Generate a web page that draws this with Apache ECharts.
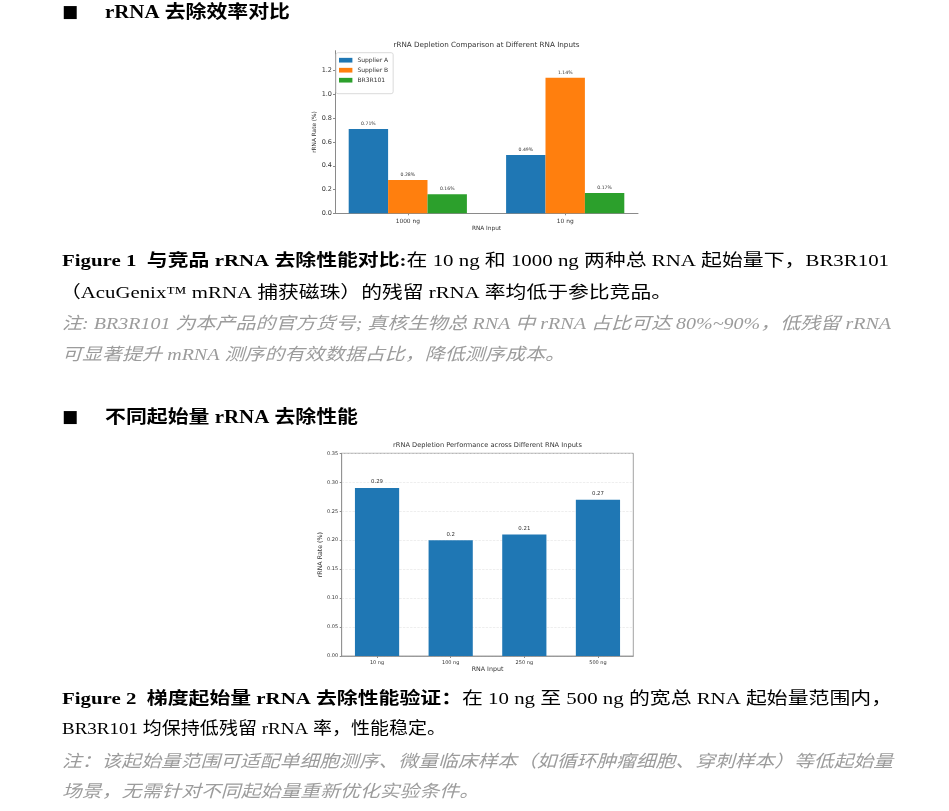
<!DOCTYPE html>
<html><head><meta charset="utf-8">
<script src="https://cdn.jsdelivr.net/npm/echarts@6/dist/echarts.min.js"></script>
<style>html,body{margin:0;padding:0;background:#fff}#main{width:949px;height:811px}</style>
</head><body><div id="main"></div>
<script>
// ---- Chart 1 data ----
const inputs1 = ['1000 ng', '10 ng'];
const supplierA = [0.71, 0.49];
const supplierB = [0.28, 1.14];
const br3r101 = [0.16, 0.17];
const seriesNames1 = ['Supplier A', 'Supplier B', 'BR3R101'];
const yTicks1 = [0, 0.2, 0.4, 0.6, 0.8, 1.0, 1.2];
const title1 = 'rRNA Depletion Comparison at Different RNA Inputs';

// ---- Chart 2 data ----
const inputs2 = ['10 ng', '100 ng', '250 ng', '500 ng'];
const rates2 = [0.29, 0.2, 0.21, 0.27];
const yTicks2 = [0, 0.05, 0.10, 0.15, 0.20, 0.25, 0.30, 0.35];
const title2 = 'rRNA Depletion Performance across Different RNA Inputs';

// ---- Document text ----
const heading1 = 'rRNA 去除效率对比';
const heading2 = '不同起始量 rRNA 去除性能';
const fig1Bold = 'Figure 1  与竞品 rRNA 去除性能对比:';
const fig1Line1 = '在 10 ng 和 1000 ng 两种总 RNA 起始量下，BR3R101';
const fig1Line2 = '（AcuGenix™ mRNA 捕获磁珠）的残留 rRNA 率均低于参比竞品。';
const note1Line1 = '注: BR3R101 为本产品的官方货号; 真核生物总 RNA 中 rRNA 占比可达 80%~90%，低残留 rRNA';
const note1Line2 = '可显著提升 mRNA 测序的有效数据占比，降低测序成本。';
const fig2Bold = 'Figure 2  梯度起始量 rRNA 去除性能验证：';
const fig2Line1 = '在 10 ng 至 500 ng 的宽总 RNA 起始量范围内，';
const fig2Line2 = 'BR3R101 均保持低残留 rRNA 率，性能稳定。';
const note2Line1 = '注：该起始量范围可适配单细胞测序、微量临床样本（如循环肿瘤细胞、穿刺样本）等低起始量';
const note2Line2 = '场景，无需针对不同起始量重新优化实验条件。';

const SERIF = "'Liberation Serif', 'Noto Sans CJK SC', serif";
const SANS = "'DejaVu Sans', sans-serif";
const TXT = '#333';
const SPINE = '#8a8a8a';
const GRAY = '#9c9c9c';

const mctx = document.createElement('canvas').getContext('2d');
function fontOf(s) { return (s.st || 'normal') + ' ' + (s.w || 'normal') + ' ' + s.size + 'px ' + SERIF; }
function makeLine(segs, x0, y, right) {
  const widths = segs.map(s => { mctx.font = fontOf(s); return mctx.measureText(s.t).width; });
  const total = widths.reduce((a, b) => a + b, 0);
  const sx = (right - x0) / total;
  let cx = x0;
  const els = [];
  segs.forEach((s, i) => {
    els.push({
      type: 'text', x: cx, y: y, scaleX: sx, z: 20,
      style: { text: s.t, fontSize: s.size, fontFamily: SERIF, fontWeight: s.w || 'normal',
        fontStyle: s.st || 'normal', fill: s.c || '#000', verticalAlign: 'middle', align: 'left' }
    });
    cx += widths[i] * sx;
  });
  return els;
}

const graphics = [].concat(
  [{ type: 'text', x: 70, y: 12.5, z: 20, style: { text: '■', fontSize: 17, fontFamily: "'DejaVu Sans'", fill: '#000', align: 'center', verticalAlign: 'middle' } },
   { type: 'text', x: 70, y: 417.5, z: 20, style: { text: '■', fontSize: 17, fontFamily: "'DejaVu Sans'", fill: '#000', align: 'center', verticalAlign: 'middle' } }],
  makeLine([{ t: heading1, w: 'bold', size: 18 }], 105, 13, 290),
  makeLine([{ t: heading2, w: 'bold', size: 18 }], 105, 418, 358),
  makeLine([{ t: fig1Bold, w: 'bold', size: 17 }, { t: fig1Line1, size: 17 }], 62, 262, 889),
  makeLine([{ t: fig1Line2, size: 17 }], 60, 293.5, 672),
  makeLine([{ t: note1Line1, st: 'italic', size: 17, c: GRAY }], 62, 325, 891),
  makeLine([{ t: note1Line2, st: 'italic', size: 17, c: GRAY }], 62, 356, 565),
  makeLine([{ t: fig2Bold, w: 'bold', size: 17 }, { t: fig2Line1, size: 17 }], 62, 700, 892),
  makeLine([{ t: fig2Line2, size: 17 }], 62, 730, 446),
  makeLine([{ t: note2Line1, st: 'italic', size: 17, c: GRAY }], 62, 763, 893),
  makeLine([{ t: note2Line2, st: 'italic', size: 17, c: GRAY }], 62, 793, 479),
  [{ type: 'text', x: 486.5, y: 45, z: 20, style: { text: title1, fontSize: 7.2, fontFamily: SANS, fill: TXT, align: 'center', verticalAlign: 'middle' } },
   { type: 'text', x: 487.5, y: 445, z: 20, style: { text: title2, fontSize: 6.65, fontFamily: SANS, fill: TXT, align: 'center', verticalAlign: 'middle' } }]
);

const colors1 = ['#1f77b4', '#ff7f0e', '#2ca02c'];
const values1 = [supplierA, supplierB, br3r101];

const chart = echarts.init(document.getElementById('main'), null, { renderer: 'canvas' });
chart.setOption({
  animation: false,
  backgroundColor: '#fff',
  textStyle: { fontFamily: SANS },
  graphic: graphics,
  legend: {
    show: true, orient: 'vertical', left: 336, top: 52.7,
    data: seriesNames1, icon: 'rect', itemWidth: 13.4, itemHeight: 4.7, itemGap: 3,
    padding: [4, 5, 10, 3], borderColor: '#d0d0d0', borderWidth: 0.8, borderRadius: 2,
    backgroundColor: '#fff', selectedMode: false,
    textStyle: { fontSize: 6, color: TXT, fontFamily: SANS, lineHeight: 7 }
  },
  grid: [
    { left: 335, top: 50.7, width: 303, height: 162.6, containLabel: false },
    { left: 341.7, top: 453.3, width: 291.6, height: 202.7, containLabel: false, show: true, borderColor: SPINE, borderWidth: 0.8 }
  ],
  xAxis: [
    { gridIndex: 0, type: 'value', min: -0.4625, max: 1.4625,
      axisLine: { show: true, onZero: false, lineStyle: { color: SPINE, width: 1 } },
      axisTick: { show: true, customValues: inputs1.map((c, i) => i), length: 2, lineStyle: { color: SPINE } },
      axisLabel: { customValues: inputs1.map((c, i) => i), formatter: v => inputs1[Math.round(v)] || '', fontSize: 5.9, color: TXT, margin: 5 },
      splitLine: { show: false },
      name: 'RNA Input', nameLocation: 'middle', nameGap: 12.3, nameTextStyle: { fontSize: 5.8, color: TXT } },
    { gridIndex: 1, type: 'value', min: -0.48, max: 3.48,
      axisLine: { show: true, onZero: false, lineStyle: { color: SPINE, width: 0.8 } },
      axisTick: { show: true, customValues: inputs2.map((c, i) => i), length: 2, lineStyle: { color: SPINE } },
      axisLabel: { customValues: inputs2.map((c, i) => i), formatter: v => inputs2[Math.round(v)] || '', fontSize: 5, color: TXT, margin: 4 },
      splitLine: { show: false },
      name: 'RNA Input', nameLocation: 'middle', nameGap: 10.5, nameTextStyle: { fontSize: 6.3, color: TXT } }
  ],
  yAxis: [
    { gridIndex: 0, type: 'value', min: 0, max: 1.368,
      axisLine: { show: true, onZero: false, lineStyle: { color: SPINE, width: 1 } },
      axisTick: { show: true, customValues: yTicks1, length: 2, lineStyle: { color: SPINE } },
      axisLabel: { customValues: yTicks1, formatter: v => v.toFixed(1), fontSize: 6.5, color: TXT, margin: 3 },
      splitLine: { show: false },
      name: 'rRNA Rate (%)', nameLocation: 'middle', nameGap: 17, nameRotate: 90, nameTextStyle: { fontSize: 5.8, color: TXT } },
    { gridIndex: 1, type: 'value', min: 0, max: 0.35, interval: 0.05,
      axisLine: { show: true, onZero: false, lineStyle: { color: SPINE, width: 0.8 } },
      axisTick: { show: true, customValues: yTicks2, length: 2, lineStyle: { color: SPINE } },
      axisLabel: { customValues: yTicks2, formatter: v => v.toFixed(2), fontSize: 5, color: TXT, margin: 3.5 },
      splitLine: { show: true, lineStyle: { color: '#e2e2e2', type: 'dashed', width: 0.6 } },
      name: 'rRNA Rate (%)', nameLocation: 'middle', nameGap: 17.5, nameRotate: 90, nameTextStyle: { fontSize: 6.3, color: TXT } }
  ],
  series: seriesNames1.map((name, k) => ({
    name: name, type: 'bar', xAxisIndex: 0, yAxisIndex: 0,
    barWidth: 39.4, barGap: '0%',
    itemStyle: { color: colors1[k] },
    data: inputs1.map((c, i) => [i, values1[k][i]]),
    label: { show: true, position: 'top', distance: 2.5, fontSize: 4.6, color: TXT,
      formatter: p => p.value[1].toFixed(2) + '%' }
  })).concat([{
    name: 'rRNA Rate', type: 'bar', xAxisIndex: 1, yAxisIndex: 1,
    barWidth: 44.2,
    itemStyle: { color: '#1f77b4' },
    data: inputs2.map((c, i) => [i, rates2[i]]),
    label: { show: true, position: 'top', distance: 3.5, fontSize: 5.4, color: TXT,
      formatter: p => String(p.value[1]) }
  }])
});
</script></body></html>
